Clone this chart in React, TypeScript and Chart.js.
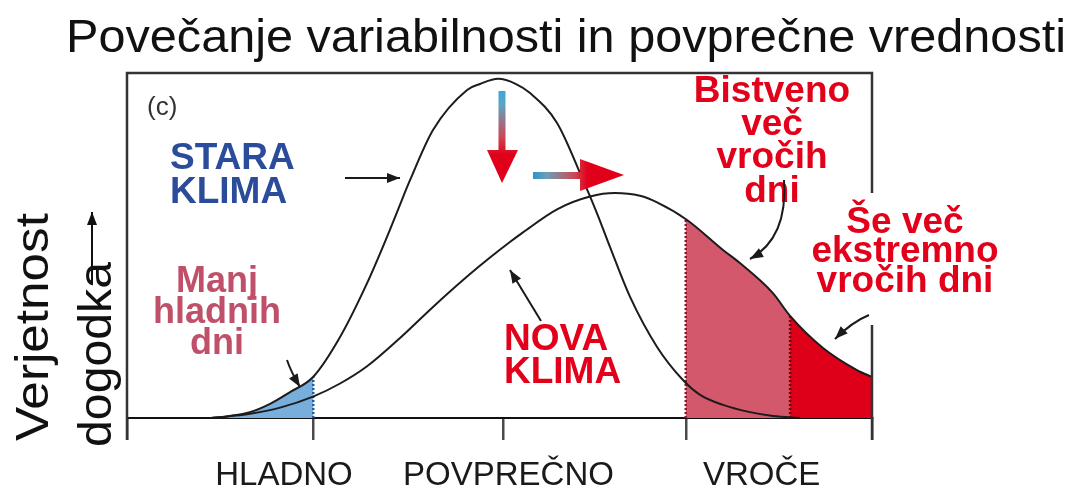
import React, { useEffect, useRef } from "react";
import { Chart, registerables } from "chart.js";

Chart.register(...registerables);

const FONT = '"Liberation Sans", Arial, Helvetica, sans-serif';

const TITLE = "Povečanje variabilnosti in povprečne vrednosti";
const Y_TITLE = ["Verjetnost", "dogodka"];

// Old climate (narrow, tall curve): x in temperature units, y in relative probability
const OLD_X = [-1.549, -1.447, -1.34, -1.232, -1.125, -1.001, -0.856, -0.711, -0.604, -0.55, -0.48, -0.357, -0.174, -0.105, -0.008, 0.089, 0.164, 0.309, 0.448, 0.523, 0.593, 0.701, 0.846, 0.985, 1.077, 1.2, 1.345, 1.468, 1.613];
const OLD_Y = [0, 0.006, 0.017, 0.041, 0.075, 0.119, 0.235, 0.391, 0.525, 0.597, 0.69, 0.835, 0.951, 0.968, 0.983, 0.968, 0.942, 0.855, 0.69, 0.594, 0.496, 0.351, 0.206, 0.11, 0.067, 0.038, 0.017, 0.006, 0];

// New climate (wider, shifted curve)
const NEW_X = [-1.538, -1.34, -1.178, -1.001, -0.856, -0.711, -0.534, -0.357, -0.174, -0.051, 0.056, 0.126, 0.309, 0.486, 0.62, 0.754, 0.846, 1.007, 1.2, 1.291, 1.468, 1.56, 1.737, 1.919, 2.0];
const NEW_Y = [0, 0.012, 0.03, 0.062, 0.1, 0.15, 0.232, 0.322, 0.41, 0.465, 0.51, 0.538, 0.605, 0.642, 0.652, 0.644, 0.625, 0.574, 0.487, 0.449, 0.362, 0.296, 0.203, 0.139, 0.119];

const AXIS_TICKS = [-2, -1, 0.02, 1, 2];
const LABEL_POS = [-1.157, 0.048, 1.407];
const X_LABELS = ["HLADNO", "POVPREČNO", "VROČE"];

const COLD_LIMIT = -1.0;
const HOT_LIMIT = 1.0;
const EXTREME_LIMIT = 1.56;

const RED = "#e3001b";

function toPoints(xs: number[], ys: number[]) {
  return xs.map((x, i) => ({ x, y: ys[i] }));
}

function fitText(ctx: CanvasRenderingContext2D, text: string, x: number, y: number, width: number, align: CanvasTextAlign) {
  const w = ctx.measureText(text).width;
  ctx.save();
  ctx.translate(x, y);
  ctx.scale(width / w, 1);
  ctx.textAlign = align;
  ctx.fillText(text, 0, 0);
  ctx.restore();
}

function head(ctx: CanvasRenderingContext2D, tx: number, ty: number, fx: number, fy: number, len: number, w: number) {
  const a = Math.atan2(ty - fy, tx - fx);
  const bx = tx - len * Math.cos(a);
  const by = ty - len * Math.sin(a);
  ctx.beginPath();
  ctx.moveTo(tx, ty);
  ctx.lineTo(bx + (w / 2) * Math.sin(a), by - (w / 2) * Math.cos(a));
  ctx.lineTo(bx - (w / 2) * Math.sin(a), by + (w / 2) * Math.cos(a));
  ctx.closePath();
  ctx.fill();
}

function straightArrow(ctx: CanvasRenderingContext2D, x1: number, y1: number, x2: number, y2: number) {
  ctx.beginPath();
  ctx.moveTo(x1, y1);
  ctx.lineTo(x2, y2);
  ctx.stroke();
  head(ctx, x2, y2, x1, y1, 13, 10);
}

function curvedArrow(ctx: CanvasRenderingContext2D, x1: number, y1: number, cx: number, cy: number, x2: number, y2: number) {
  ctx.beginPath();
  ctx.moveTo(x1, y1);
  ctx.quadraticCurveTo(cx, cy, x2, y2);
  ctx.stroke();
  head(ctx, x2, y2, cx, cy, 13, 10);
}

function textLines(ctx: CanvasRenderingContext2D, lines: string[], x: number, baselines: number[], font: string, color: string, align: CanvasTextAlign) {
  ctx.font = font;
  ctx.fillStyle = color;
  ctx.textAlign = align;
  ctx.textBaseline = "alphabetic";
  lines.forEach((l, i) => ctx.fillText(l, x, baselines[i]));
}

const fillPlugin = {
  id: "tailFills",
  beforeDatasetsDraw(chart: any) {
    const { ctx, chartArea, scales } = chart;
    const xs = scales.x;
    const base = scales.y.getPixelForValue(0);
    const under = (i: number) => {
      const meta = chart.getDatasetMeta(i);
      const line = meta.dataset;
      line.updateControlPoints(chartArea, "x");
      const pts = meta.data;
      ctx.beginPath();
      line.path(ctx);
      ctx.lineTo(pts[pts.length - 1].x, base);
      ctx.lineTo(pts[0].x, base);
      ctx.closePath();
    };
    const region = (i: number, a: number, b: number, color: string) => {
      const xa = xs.getPixelForValue(a);
      const xb = xs.getPixelForValue(b);
      ctx.save();
      under(i);
      ctx.clip();
      ctx.fillStyle = color;
      ctx.fillRect(xa, chartArea.top, xb - xa, base - chartArea.top);
      ctx.restore();
    };
    const edge = (i: number, v: number, color: string) => {
      const px = xs.getPixelForValue(v);
      ctx.save();
      under(i);
      ctx.clip();
      ctx.strokeStyle = color;
      ctx.lineWidth = 2.5;
      ctx.setLineDash([2, 2]);
      ctx.beginPath();
      ctx.moveTo(px, base);
      ctx.lineTo(px, chartArea.top);
      ctx.stroke();
      ctx.restore();
    };
    region(0, OLD_X[0], COLD_LIMIT, "#78aedc");
    region(1, HOT_LIMIT, EXTREME_LIMIT, "#d4586c");
    region(1, EXTREME_LIMIT, NEW_X[NEW_X.length - 1], "#de0018");
    edge(0, COLD_LIMIT, "#2a5a9a");
    edge(1, HOT_LIMIT, "#8a1a2a");
    edge(1, EXTREME_LIMIT, "#6a0a12");
  },
};

const annotationPlugin = {
  id: "climateAnnotations",
  afterDraw(chart: any) {
    const ctx: CanvasRenderingContext2D = chart.ctx;
    const { left, right, top, bottom } = chart.chartArea;
    ctx.save();

    // frame
    ctx.strokeStyle = "#333";
    ctx.lineWidth = 2.5;
    ctx.beginPath();
    ctx.moveTo(left, bottom + 22);
    ctx.lineTo(left, top);
    ctx.lineTo(right, top);
    ctx.lineTo(right, 193);
    ctx.moveTo(right, 325);
    ctx.lineTo(right, bottom + 22);
    ctx.stroke();

    // title
    ctx.fillStyle = "#111";
    ctx.textBaseline = "alphabetic";
    ctx.font = `46px ${FONT}`;
    fitText(ctx, TITLE, 566, 52, 1000, "center");

    // y title
    ctx.save();
    ctx.translate(48, 441);
    ctx.rotate(-Math.PI / 2);
    ctx.font = `46px ${FONT}`;
    fitText(ctx, Y_TITLE[0], 0, 0, 228, "left");
    ctx.restore();
    ctx.save();
    ctx.translate(111, 447);
    ctx.rotate(-Math.PI / 2);
    ctx.font = `46px ${FONT}`;
    fitText(ctx, Y_TITLE[1], 0, 0, 185, "left");
    ctx.restore();

    // y arrow
    ctx.strokeStyle = "#111";
    ctx.fillStyle = "#111";
    ctx.lineWidth = 2;
    straightArrow(ctx, 92, 285, 92, 212);

    // (c)
    textLines(ctx, ["(c)"], 147, [115], `26px ${FONT}`, "#333", "left");

    // labels
    textLines(ctx, ["STARA", "KLIMA"], 170, [169, 203], `bold 37px ${FONT}`, "#2b4c9b", "left");
    textLines(ctx, ["Manj", "hladnih", "dni"], 217, [292, 323, 354], `bold 36px ${FONT}`, "#c0506a", "center");
    textLines(ctx, ["NOVA", "KLIMA"], 504, [350, 383], `bold 37px ${FONT}`, RED, "left");
    textLines(ctx, ["Bistveno", "več", "vročih", "dni"], 772, [102, 135, 168, 202], `bold 37px ${FONT}`, RED, "center");
    textLines(ctx, ["Še več", "ekstremno", "vročih dni"], 905, [233, 262, 292], `bold 37px ${FONT}`, RED, "center");

    // black arrows
    ctx.strokeStyle = "#1a1a1a";
    ctx.fillStyle = "#1a1a1a";
    ctx.lineWidth = 2;
    straightArrow(ctx, 345, 178, 400, 178);
    curvedArrow(ctx, 287, 360, 291, 372, 300, 387);
    straightArrow(ctx, 541, 321, 510, 270);
    curvedArrow(ctx, 784, 180, 788, 238, 750, 259);
    curvedArrow(ctx, 869, 315, 852, 322, 835, 339);

    // gradient arrows
    const gv = ctx.createLinearGradient(0, 90, 0, 183);
    gv.addColorStop(0, "#38a8d8");
    gv.addColorStop(0.15, "#5aa6c6");
    gv.addColorStop(0.5, "#cc4a55");
    gv.addColorStop(0.7, "#e0001a");
    gv.addColorStop(1, "#e0001a");
    ctx.fillStyle = gv;
    ctx.fillRect(498.5, 91, 7, 61);
    ctx.beginPath();
    ctx.moveTo(487, 150);
    ctx.lineTo(518, 150);
    ctx.lineTo(502, 183);
    ctx.closePath();
    ctx.fill();

    const gh = ctx.createLinearGradient(533, 0, 624, 0);
    gh.addColorStop(0, "#2a98c8");
    gh.addColorStop(0.15, "#6aa0b8");
    gh.addColorStop(0.45, "#cc4a55");
    gh.addColorStop(0.6, "#e0001a");
    gh.addColorStop(1, "#e0001a");
    ctx.fillStyle = gh;
    ctx.fillRect(533, 172, 50, 7);
    ctx.beginPath();
    ctx.moveTo(580, 159);
    ctx.lineTo(580, 191);
    ctx.lineTo(624, 175);
    ctx.closePath();
    ctx.fill();

    ctx.restore();
  },
};

export default function App() {
  const ref = useRef<HTMLCanvasElement | null>(null);
  useEffect(() => {
    if (!ref.current) return;
    const chart = new Chart(ref.current, {
      type: "line",
      data: {
        datasets: [
          {
            label: "Stara klima",
            data: toPoints(OLD_X, OLD_Y),
            borderColor: "#1c1c1c",
            borderWidth: 2,
            pointRadius: 0,
            cubicInterpolationMode: "monotone",
            fill: false,
            xAxisID: "x",
            yAxisID: "y",
          },
          {
            label: "Nova klima",
            data: toPoints(NEW_X, NEW_Y),
            borderColor: "#1c1c1c",
            borderWidth: 2,
            pointRadius: 0,
            cubicInterpolationMode: "monotone",
            fill: false,
            xAxisID: "x",
            yAxisID: "y",
          },
        ],
      },
      options: {
        animation: false,
        responsive: true,
        maintainAspectRatio: false,
        events: [],
        layout: { padding: { left: 127, right: 206, top: 73, bottom: 0 } },
        plugins: {
          legend: { display: false },
          tooltip: { enabled: false },
          title: { display: false },
        },
        scales: {
          x: {
            type: "linear",
            position: "bottom",
            min: -2,
            max: 2,
            weight: 0,
            afterBuildTicks: (s: any) => {
              s.ticks = AXIS_TICKS.map((v) => ({ value: v }));
            },
            afterFit: (s: any) => {
              s.height = 22;
            },
            ticks: { display: false },
            grid: {
              display: true,
              drawOnChartArea: false,
              drawTicks: true,
              tickLength: 22,
              color: "#4a4a4a",
              lineWidth: 2.5,
            },
            border: { display: true, color: "#111", width: 2 },
          },
          xl: {
            type: "linear",
            axis: "x",
            position: "bottom",
            min: -2,
            max: 2,
            weight: 1,
            afterBuildTicks: (s: any) => {
              s.ticks = LABEL_POS.map((v) => ({ value: v }));
            },
            afterFit: (s: any) => {
              s.height = 51;
            },
            ticks: {
              autoSkip: false,
              maxRotation: 0,
              minRotation: 0,
              padding: 8,
              color: "#1a1a1a",
              font: { family: FONT, size: 33 },
              callback: (_v: any, i: number) => X_LABELS[i],
            },
            grid: { display: false },
            border: { display: false },
          },
          y: { type: "linear", min: 0, max: 1, display: false },
        },
      } as any,
      plugins: [fillPlugin, annotationPlugin],
    });
    return () => chart.destroy();
  }, []);
  return (
    <div style={{ position: "fixed", left: 0, top: 0, width: 1078, height: 491, background: "#fff" }}>
      <canvas ref={ref} />
    </div>
  );
}
